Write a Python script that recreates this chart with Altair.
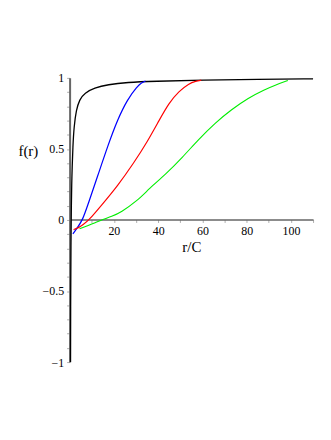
import altair as alt
import pandas as pd

# Curves
black_r = [0.4, 0.45, 0.6, 0.8, 1.0, 1.5, 2.0, 3.0, 4.5, 6.8, 11.2, 17.2, 26.1, 38.0, 60.0, 85.0, 110.0]
black_f = [-1.0, -0.56, -0.17, 0.12, 0.3, 0.53, 0.655, 0.775, 0.848, 0.894, 0.929, 0.953, 0.969, 0.976, 0.985, 0.99, 0.993]

blue_r = [1.5, 3.3, 5.9, 8.2, 12.7, 17.2, 21.7, 26.1, 30.6, 32.5, 34.3]
blue_f = [-0.098, -0.059, 0.0, 0.105, 0.31, 0.52, 0.708, 0.848, 0.941, 0.965, 0.978]

red_r = [1.8, 4.0, 6.0, 8.8, 14.2, 21.7, 29.1, 35.1, 40.4, 44.9, 49.4, 53.9, 57.0, 59.5]
red_f = [-0.068, -0.055, -0.035, 0.0, 0.1, 0.24, 0.404, 0.55, 0.7, 0.824, 0.906, 0.96, 0.977, 0.984]

green_r = [4.5, 8.2, 11.5, 15.0, 19.0, 23.1, 30.6, 36.0, 43.4, 50.9, 58.3, 65.8, 73.2, 80.7, 88.2, 92.7, 98.6]
green_f = [-0.062, -0.04, -0.02, 0.003, 0.025, 0.053, 0.135, 0.221, 0.322, 0.439, 0.568, 0.684, 0.778, 0.859, 0.918, 0.948, 0.981]

series_names = ["black", "blue", "red", "green"]
series_colors = ["#000000", "#0000ff", "#ff0000", "#00ee00"]
series_widths = [1.3, 1.1, 1.1, 1.6]

x_ticks = [10, 20, 30, 40, 50, 60, 70, 80, 90, 100, 110]
y_ticks = [-1, -0.9, -0.8, -0.7, -0.6, -0.5, -0.4, -0.3, -0.2, -0.1, 0,
           0.1, 0.2, 0.3, 0.4, 0.5, 0.6, 0.7, 0.8, 0.9, 1]

rows = []
for name, rs, fs in [("black", black_r, black_f), ("blue", blue_r, blue_f),
                     ("red", red_r, red_f), ("green", green_r, green_f)]:
    for i, (r, f) in enumerate(zip(rs, fs)):
        rows.append({"series": name, "r": r, "f": f, "i": i})
df = pd.DataFrame(rows)

W, H = 245, 286
x_axis = alt.Axis(
    values=x_ticks,
    labelExpr="datum.value % 20 == 0 ? datum.label : ''",
    offset=-143.5,
    domainColor="#666666", domainWidth=1.5,
    tickColor="#999999", tickSize=3, tickWidth=0.8,
    labelFont="Liberation Serif", labelFontSize=12, labelColor="#000000",
    labelPadding=3, grid=False,
    title="r/C", titleFont="Liberation Serif", titleFontSize=15,
    titleFontWeight="normal", titleColor="#000000", titlePadding=3,
)
y_axis = alt.Axis(
    values=y_ticks,
    labelExpr="(abs(datum.value * 2 - round(datum.value * 2)) < 0.001) ? replace(format(datum.value, ''), '-', '\u2212') : ''",
    domainColor="#666666", domainWidth=2,
    tickColor="#999999", tickSize=3, tickWidth=0.8,
    labelFont="Liberation Serif", labelFontSize=12, labelColor="#000000",
    labelPadding=3, grid=False,
    title="f(r)", titleFont="Liberation Serif", titleFontSize=15,
    titleFontWeight="normal", titleColor="#000000", titleAngle=0,
    titleAlign="center", titleBaseline="middle", titleX=-42, titleY=73,
)

chart = alt.Chart(df).mark_line(interpolate="basis").encode(
    x=alt.X("r:Q", scale=alt.Scale(domain=[0, 110], nice=False, zero=False), axis=x_axis),
    y=alt.Y("f:Q", scale=alt.Scale(domain=[-1, 1], nice=False), axis=y_axis),
    color=alt.Color("series:N", scale=alt.Scale(domain=series_names, range=series_colors), legend=None),
    strokeWidth=alt.StrokeWidth("series:N", scale=alt.Scale(domain=series_names, range=series_widths), legend=None),
    detail="series:N",
    order="i:Q",
).properties(
    width=W, height=H,
    autosize=alt.AutoSizeParams(type="none"),
    padding={"left": 62, "top": 69, "right": 10, "bottom": 60},
).configure_view(stroke=None)

chart.save("out.html", embed_options={"renderer": "svg", "actions": False})
